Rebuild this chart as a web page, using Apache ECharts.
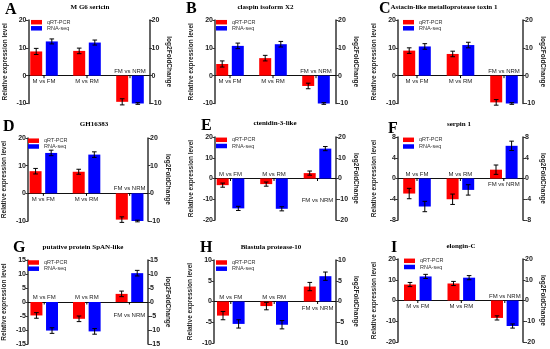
<!DOCTYPE html>
<html>
<head>
<meta charset="utf-8">
<script src="https://cdn.jsdelivr.net/npm/echarts@6/dist/echarts.min.js"></script>
<style>
  html, body { margin: 0; padding: 0; background: #fff; }
  #chart { width: 550px; height: 349px; }
</style>
</head>
<body>
<div id="chart"></div>
<script>
// ---------------- DATA ----------------
const categories = ['M vs FM', 'M vs RM', 'FM vs NRM'];
const seriesNames = ['qRT-PCR', 'RNA-seq'];
const panelLetters = ['A', 'B', 'C', 'D', 'E', 'F', 'G', 'H', 'I'];
const panelTitles = ['M G6 sericin', 'claspin isoform X2', 'Astacin-like metalloprotease toxin 1',
  'GH16383', 'ctenidin-3-like', 'serpin 1',
  'putative protein SpAN-like', 'Blastula protease-10', 'elongin-C'];
const qpcrValues = [
  [8.7, 8.9, -9.4], [4.2, 6.3, -3.7], [9.0, 7.8, -9.6],
  [8.0, 7.8, -9.5], [-3.2, -2.7, 2.6], [-2.9, -4.0, 1.7],
  [-4.8, -6.0, 2.9], [-3.4, -1.1, 3.6], [7.7, 8.2, -8.4]
];
const qpcrErrors = [
  [1.1, 1.0, 1.1], [1.1, 1.0, 1.0], [1.0, 1.0, 1.0],
  [1.0, 0.9, 1.0], [1.0, 1.0, 1.0], [1.0, 1.0, 0.9],
  [1.0, 1.0, 1.0], [1.0, 0.9, 1.0], [1.0, 1.0, 1.0]
];
const rnaseqValues = [
  [12.3, 11.9, -10.0], [10.7, 11.3, -10.0], [10.5, 11.0, -10.0],
  [14.6, 14.0, -10.0], [-14.4, -14.6, 14.4], [-5.4, -2.2, 6.3],
  [-10.2, -10.5, 10.3], [-5.4, -5.6, 6.1], [11.6, 11.0, -12.3]
];
const rnaseqErrors = [
  [0.9, 0.9, 0.3], [1.0, 1.0, 0.3], [1.0, 1.0, 0.3],
  [1.0, 1.0, 0.3], [1.0, 1.0, 1.0], [1.0, 1.0, 0.9],
  [1.0, 1.0, 1.0], [1.0, 1.0, 1.0], [1.0, 1.0, 1.0]
];
const axisMin = [-10, -10, -10, -10, -20, -8, -15, -10, -20];
const axisMax = [20, 20, 20, 20, 20, 8, 15, 10, 20];
const axisStep = [10, 10, 10, 10, 10, 4, 5, 5, 10];

// ---------------- LAYOUT ----------------
const layout = [
  {l: 28.5, t: 20, w: 121, h: 83.5, off: 15.5, sp: 43,   tx: 90,  ty: 7.2,   lx: 5,   ly: 10,    gx: 31,  gr: 22.2,  gb: 28.3,  below: 3},
  {l: 215,  t: 20, w: 121, h: 83.5, off: 15,   sp: 43,   tx: 265.5, ty: 7,   lx: 186, ly: 9.2,   gx: 216, gr: 22.2,  gb: 28.3,  below: 3},
  {l: 398,  t: 20, w: 125, h: 83.5, off: 19,   sp: 43.5, tx: 444, ty: 7,     lx: 379, ly: 9.2,   gx: 403, gr: 22.2,  gb: 28.3,  below: 3},
  {l: 27,   t: 138, w: 121, h: 83,  off: 15.5, sp: 43.5, tx: 94,  ty: 124.3, lx: 3,   ly: 127,   gx: 28,  gr: 140.7, gb: 146.5, below: 3},
  {l: 215,  t: 137, w: 121, h: 83,  off: 15.5, sp: 43.5, tx: 275, ty: 123.5, lx: 201, ly: 126,   gx: 216, gr: 139.8, gb: 146,   below: 19},
  {l: 398,  t: 137, w: 125, h: 83,  off: 19,   sp: 43.4, tx: 459, ty: 124.3, lx: 388, ly: 128.5, gx: 403, gr: 139.8, gb: 146.5, below: 2.5},
  {l: 26,   t: 260, w: 122, h: 84,  off: 16.5, sp: 43.3, tx: 83,  ty: 247.5, lx: 13,  ly: 248,   gx: 28,  gr: 262.5, gb: 268.7, below: 10},
  {l: 214,  t: 260, w: 122, h: 83,  off: 16.8, sp: 43.4, tx: 271, ty: 247.5, lx: 200, ly: 248,   gx: 216, gr: 262.5, gb: 268.7, below: 3.4},
  {l: 398,  t: 259, w: 125, h: 83,  off: 19.8, sp: 43.5, tx: 461, ty: 246,   lx: 391, ly: 248,   gx: 404, gr: 260.8, gb: 267,   below: 3}
];

const BAR_W = 12;
const BAR_GAP = 0.3;
const BAR_OFF = (BAR_W + BAR_W * BAR_GAP) / 2;
const colors = ['#ff0000', '#0000ff'];
const axisColor = '#333';
const sansFont = 'Liberation Sans';
const serifFont = 'Liberation Serif';

const chart = echarts.init(document.getElementById('chart'), null, {renderer: 'canvas'});

const grids = [], xAxes = [], yAxes = [], series = [], legends = [], graphics = [];

function renderErr(params, api) {
  const x = api.value(0), v = api.value(1), e = api.value(2), k = api.value(3);
  const dx = (k === 0 ? -1 : 1) * BAR_OFF;
  const hi = api.coord([x, v + e]);
  const lo = api.coord([x, v - e]);
  const cx = hi[0] + dx;
  const st = {stroke: '#000', lineWidth: 1};
  return {type: 'group', children: [
    {type: 'line', shape: {x1: cx, y1: hi[1], x2: cx, y2: lo[1]}, style: st},
    {type: 'line', shape: {x1: cx - 2.3, y1: hi[1], x2: cx + 2.3, y2: hi[1]}, style: st},
    {type: 'line', shape: {x1: cx - 2.3, y1: lo[1], x2: cx + 2.3, y2: lo[1]}, style: st}
  ]};
}

function makeLabelRenderer(p) {
  return function (params, api) {
    const i = api.value(0);
    const q = api.value(1);
    const pos = api.coord([i, 0]);
    const below = q > 0;
    return {type: 'group', children: [
      {type: 'line', shape: {x1: pos[0], y1: pos[1], x2: pos[0], y2: pos[1] + 2.5},
        style: {stroke: '#000', lineWidth: 1}},
      {type: 'text', x: pos[0], y: below ? pos[1] + layout[p].below : pos[1] - 1.5,
        style: {text: categories[i], fontSize: 6, fontFamily: sansFont, fill: '#222',
          align: 'center', verticalAlign: below ? 'top' : 'bottom'}}
    ]};
  };
}

layout.forEach(function (L, p) {
  grids.push({left: L.l, top: L.t, width: L.w, height: L.h, containLabel: false});
  const xMin = -L.off / L.sp;
  const xMax = xMin + L.w / L.sp;
  xAxes.push({
    gridIndex: p, type: 'value', min: xMin, max: xMax,
    axisLine: {show: true, onZero: true, lineStyle: {color: '#111', width: 1}},
    axisTick: {show: false}, axisLabel: {show: false}, splitLine: {show: false}
  });
  const yCommon = {
    gridIndex: p, type: 'value', min: axisMin[p], max: axisMax[p], interval: axisStep[p],
    axisLine: {show: true, onZero: false, lineStyle: {color: axisColor, width: 1.5}},
    axisTick: {show: true, length: 2.5, lineStyle: {color: axisColor, width: 1}},
    axisLabel: {fontSize: 7, fontWeight: 'bold', color: '#222', margin: 2, fontFamily: sansFont},
    splitLine: {show: false},
    nameLocation: 'middle',
    nameTextStyle: {fontSize: 6.5, fontWeight: 'bold', color: '#222', fontFamily: sansFont}
  };
  yAxes.push(Object.assign({}, yCommon, {position: 'left', name: 'Relative expression level', nameRotate: 90, nameGap: 20}));
  yAxes.push(Object.assign({}, yCommon, {position: 'right', name: 'log2FoldChange', nameRotate: -90, nameGap: 16}));

  const vals = [qpcrValues[p], rnaseqValues[p]];
  const errs = [qpcrErrors[p], rnaseqErrors[p]];
  vals.forEach(function (arr, k) {
    series.push({
      type: 'bar', name: seriesNames[k], xAxisIndex: p, yAxisIndex: 2 * p,
      data: arr.map(function (v, i) { return [i, v]; }),
      barWidth: BAR_W, barGap: (BAR_GAP * 100) + '%',
      itemStyle: {color: colors[k]}, silent: true
    });
  });
  const errData = [];
  vals.forEach(function (arr, k) {
    arr.forEach(function (v, i) { errData.push([i, v, errs[k][i], k]); });
  });
  series.push({
    type: 'custom', name: 'err' + p, xAxisIndex: p, yAxisIndex: 2 * p,
    renderItem: renderErr, data: errData, encode: {x: 0, y: 1}, z: 5, silent: true
  });
  series.push({
    type: 'custom', name: 'cat' + p, xAxisIndex: p, yAxisIndex: 2 * p,
    renderItem: makeLabelRenderer(p),
    data: categories.map(function (c, i) { return [i, qpcrValues[p][i]]; }),
    encode: {x: 0, y: 1}, z: 6, silent: true
  });

  [L.gr, L.gb].forEach(function (cy, k) {
    legends.push({
      left: L.gx, top: cy - 3, padding: 0, icon: 'rect', itemWidth: 11, itemHeight: 4.5,
      data: [seriesNames[k]], selectedMode: false,
      textStyle: {fontSize: 5.5, color: '#333', fontFamily: sansFont, lineHeight: 6}
    });
  });

  graphics.push({
    type: 'text', x: L.lx, y: L.ly,
    style: {text: panelLetters[p], font: 'bold 16px "' + serifFont + '"', fill: '#000',
      align: 'left', verticalAlign: 'middle'}
  });
  graphics.push({
    type: 'text', x: L.tx, y: L.ty,
    style: {text: panelTitles[p], font: 'bold 7px "' + serifFont + '"', fill: '#000',
      align: 'center', verticalAlign: 'middle'}
  });
});

chart.setOption({
  animation: false,
  backgroundColor: '#fff',
  textStyle: {fontFamily: sansFont},
  grid: grids, xAxis: xAxes, yAxis: yAxes, series: series, legend: legends,
  graphic: graphics
});
</script>
</body>
</html>
